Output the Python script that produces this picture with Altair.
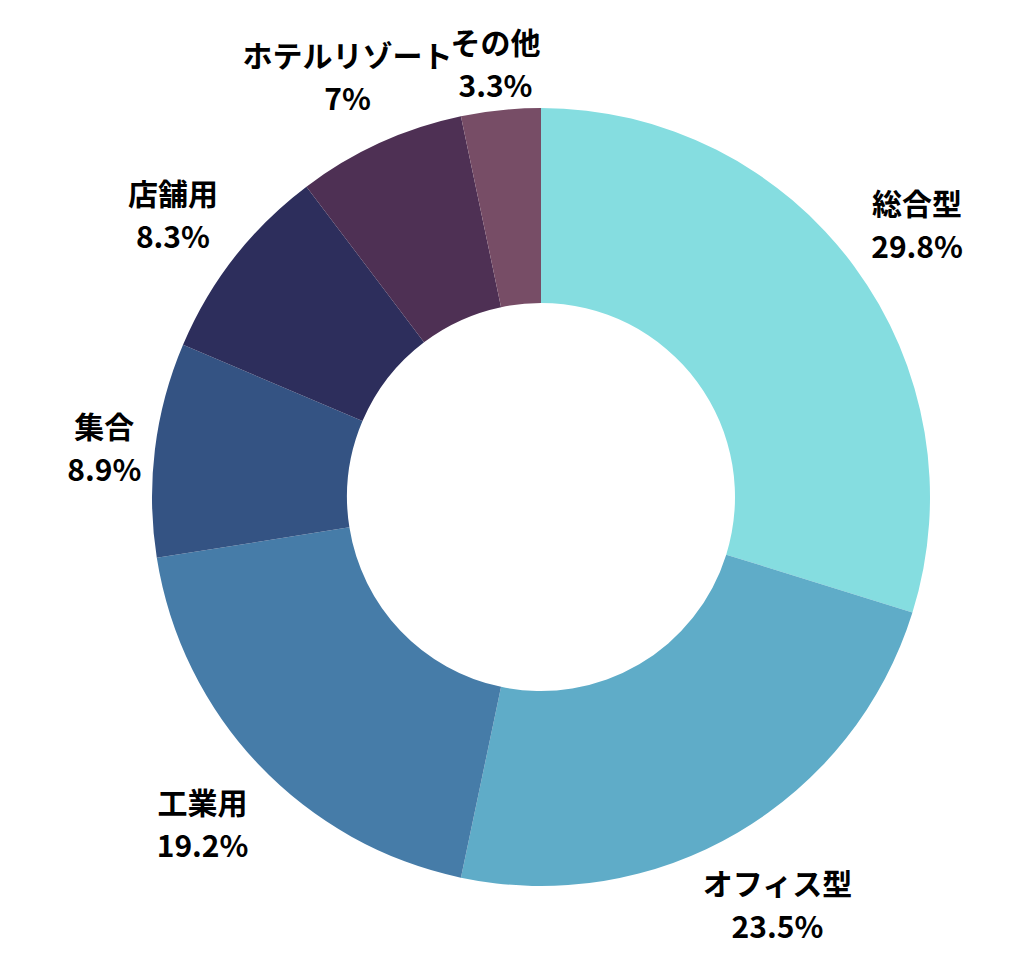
import altair as alt
import pandas as pd

categories = ["総合型", "オフィス型", "工業用", "集合", "店舗用", "ホテルリゾート", "その他"]
values = [29.8, 23.5, 19.2, 8.9, 8.3, 7.0, 3.3]
pct_labels = ["29.8%", "23.5%", "19.2%", "8.9%", "8.3%", "7%", "3.3%"]
colors = ["#85DDE0", "#5FACC8", "#467CA8", "#345383", "#2D2E5C", "#4E3054", "#774D66"]

df = pd.DataFrame({
    "cat": categories,
    "val": values,
    "order": list(range(len(categories))),
    "label": [f"{c}\n{p}" for c, p in zip(categories, pct_labels)],
})

cx, cy = 533, 489
inner_test = "datum.cat === 'その他' || datum.cat === '集合'"

base = alt.Chart(df).encode(
    theta=alt.Theta("val:Q", stack=True),
    order=alt.Order("order:Q", sort="ascending"),
)

arcs = base.mark_arc(radius=389, radius2=194).encode(
    x=alt.value(cx), y=alt.value(cy),
    color=alt.Color("cat:N", scale=alt.Scale(domain=categories, range=colors), legend=None),
)

text_style = dict(
    font="Noto Sans CJK JP", fontWeight="bold", fontSize=30,
    lineBreak="\n", lineHeight=43, align="center", baseline="middle", dy=-14
)

text_main = base.mark_text(radius=467, **text_style).encode(
    x=alt.value(cx), y=alt.value(cy), color=alt.value("#000000"),
    text=alt.condition(inner_test, alt.value(""), alt.Text("label:N")),
)

text_inner = base.mark_text(radius=440, **text_style).encode(
    x=alt.value(cx), y=alt.value(cy), color=alt.value("#000000"),
    text=alt.condition(inner_test, alt.Text("label:N"), alt.value("")),
)

chart = (arcs + text_main + text_inner).properties(
    width=1008, height=942, autosize=alt.AutoSizeParams(type="none"), padding=0
).configure_view(stroke=None)

chart.save("out.html", embed_options={"renderer": "svg", "actions": False})
